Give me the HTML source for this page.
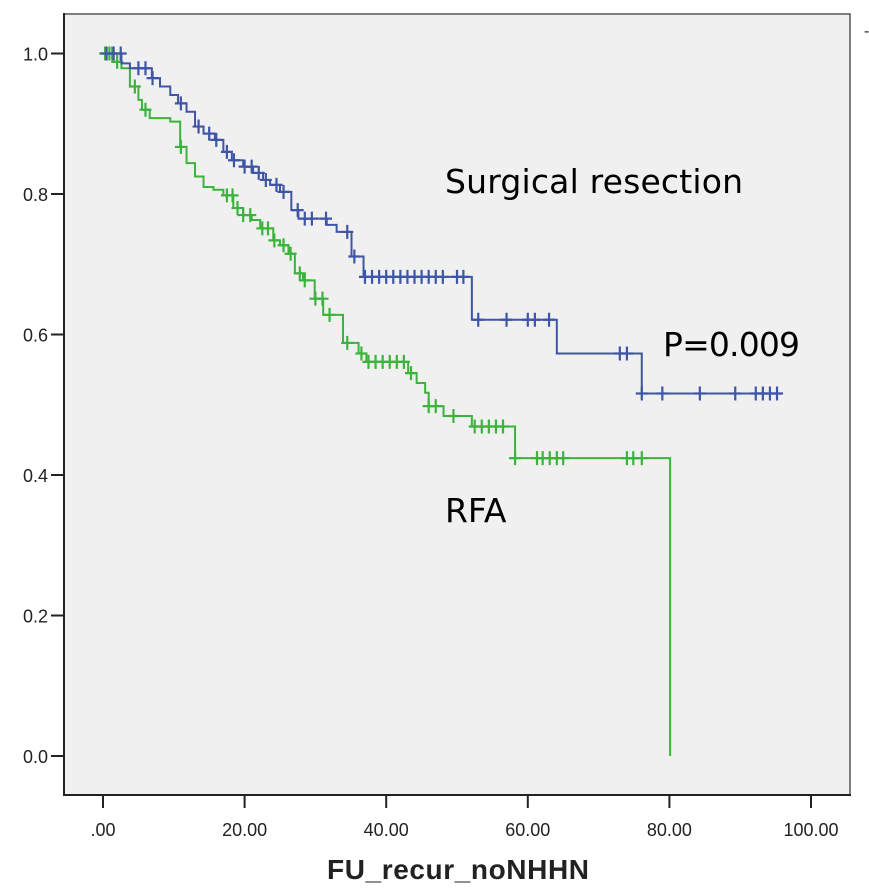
<!DOCTYPE html>
<html><head><meta charset="utf-8"><style>
html,body{margin:0;padding:0;background:#fff;}
svg{display:block;font-family:"Liberation Sans",sans-serif;}
</style></head><body>
<svg id="chart" width="869" height="894" viewBox="0 0 869 894">
<rect x="64" y="14" width="786" height="781" fill="#f0f0f0" stroke="#555" stroke-width="1.5"/>
<line x1="63" y1="795" x2="851" y2="795" stroke="#222" stroke-width="2"/>
<line x1="64" y1="13" x2="64" y2="796" stroke="#222" stroke-width="2"/>
<g id="axes"></g>
<g id="series"></g>
<text x="445" y="193" font-size="33" fill="#000" style="font-family:'DejaVu Sans',sans-serif" textLength="298">Surgical resection</text>
<text x="663" y="356" font-size="33" fill="#000" style="font-family:'DejaVu Sans',sans-serif" textLength="137">P=0.009</text>
<text x="445" y="522" font-size="33" fill="#000" style="font-family:'DejaVu Sans',sans-serif">RFA</text>
<text x="458" y="879" font-size="28" font-weight="bold" text-anchor="middle" fill="#222" textLength="262">FU_recur_noNHHN</text>
<text x="864" y="36" font-size="16" fill="#222">-</text>
</svg>
<script>
const xTicks = [0, 20, 40, 60, 80, 100];
const xTickLabels = [".00", "20.00", "40.00", "60.00", "80.00", "100.00"];
const yTicks = [0, 0.2, 0.4, 0.6, 0.8, 1.0];
const yTickLabels = ["0.0", "0.2", "0.4", "0.6", "0.8", "1.0"];

const srTimes = [2.6, 3.8, 6.9, 8.05, 9.5, 10.6, 11.8, 13.0, 14.2, 15.8, 17.0, 18.2, 19.8, 21.2, 22.6, 23.6, 25.0, 26.6, 27.6, 31.6, 33.0, 35.1, 36.8, 52.1, 64.1, 76.1];
const srSurv = [0.986, 0.979, 0.965, 0.953, 0.941, 0.929, 0.917, 0.896, 0.886, 0.877, 0.860, 0.848, 0.839, 0.830, 0.820, 0.813, 0.803, 0.777, 0.765, 0.756, 0.746, 0.711, 0.682, 0.621, 0.573, 0.516];
const srEnd = 95.5;
const srCensor = [0.5, 1.5, 2.5, 5, 6, 7, 11, 13.5, 15, 16, 17.5, 18.5, 20, 21, 22, 23, 24.5, 25.5, 27.5, 28.5, 29.5, 31.5, 34.5, 35.5, 37, 38, 39, 40, 41, 42, 43, 44, 45, 46, 47, 48, 50, 50.9, 53, 57, 60, 61, 63, 73, 74, 76.1, 79, 84.3, 89.3, 92.2, 93.2, 94.2, 95.2];

const rfaTimes = [1.45, 2.6, 3.8, 5.0, 5.5, 6.6, 9.5, 10.9, 11.8, 13.0, 14.2, 15.6, 17.0, 18.4, 19.8, 21.0, 22.2, 24.05, 25.0, 26.2, 27.1, 28.25, 29.9, 31.1, 33.9, 36.1, 37.2, 43.1, 44.3, 45.5, 46.0, 48.1, 52.1, 58.2, 80.1];
const rfaSurv = [0.988, 0.979, 0.953, 0.934, 0.920, 0.908, 0.903, 0.867, 0.844, 0.825, 0.810, 0.806, 0.798, 0.780, 0.770, 0.763, 0.751, 0.734, 0.727, 0.715, 0.687, 0.677, 0.651, 0.628, 0.588, 0.573, 0.561, 0.545, 0.531, 0.517, 0.498, 0.484, 0.469, 0.424, 0.0];
const rfaEnd = 80.1;
const rfaCensor = [0.3, 0.9, 1.3, 2.0, 4.5, 6, 11, 17.5, 18.3, 19, 19.8, 20.8, 22.5, 23.3, 24.2, 25.5, 26.5, 27.8, 28.5, 30, 31, 32, 34.5, 36.5, 37.5, 38.5, 39.5, 40.5, 41.5, 42.5, 43.5, 46, 47, 49.5, 52.5, 53.5, 54.5, 55.5, 56.5, 58.2, 61.3, 62.1, 63.1, 64.1, 65, 74, 74.9, 76.1];

const NS = "http://www.w3.org/2000/svg";
function sx(t){ return 103 + t * 7.08; }
function sy(s){ return 756 - s * 702.5; }
const axes = document.getElementById('axes');
const series = document.getElementById('series');
function mk(tag, attrs, parent){
  const el = document.createElementNS(NS, tag);
  for (const k in attrs) el.setAttribute(k, attrs[k]);
  parent.appendChild(el);
  return el;
}
xTicks.forEach((v, i) => {
  const tk = mk('line', {x1: sx(v), x2: sx(v), y1: 795, y2: 808, stroke: '#222', 'stroke-width': 2}, axes);
  
  
  const tl = mk('text', {x: sx(v), y: 836, 'font-size': 18, 'text-anchor': 'middle', fill: '#222'}, axes);
  tl.textContent = xTickLabels[i];
  
  
});
yTicks.forEach((v, i) => {
  const tk = mk('line', {x1: 51, x2: 64, y1: sy(v), y2: sy(v), stroke: '#222', 'stroke-width': 2}, axes);
  
  
  const tl = mk('text', {x: 48, y: sy(v) + 7, 'font-size': 18, 'text-anchor': 'end', fill: '#222'}, axes);
  tl.textContent = yTickLabels[i];
  
  
});
function survAt(times, surv, t){
  let s = 1;
  for (let i = 0; i < times.length; i++) if (times[i] <= t) s = surv[i];
  return s;
}
function drawCurve(times, surv, end, censor, color, name){
  let d = 'M' + sx(0) + ',' + sy(1);
  for (let i = 0; i < times.length; i++) {
    d += ' H' + sx(times[i]) + ' V' + sy(surv[i]);
  }
  if (sx(end) > sx(times[times.length - 1])) d += ' H' + sx(end);
  const p = mk('path', {d: d, fill: 'none', stroke: color, 'stroke-width': 2}, series);
  
  
  censor.forEach(t => {
    const x = sx(t), y = sy(survAt(times, surv, t));
    const g = mk('path', {d: 'M' + (x - 6) + ',' + y + ' H' + (x + 6) + ' M' + x + ',' + (y - 7) + ' V' + (y + 7), stroke: color, 'stroke-width': 2.2, fill: 'none'}, series);
    
    
  });
}
drawCurve(rfaTimes, rfaSurv, rfaEnd, rfaCensor, '#3cb33c', 'rfa');
drawCurve(srTimes, srSurv, srEnd, srCensor, '#3f55a6', 'surgical-resection');
</script>
</body></html>
